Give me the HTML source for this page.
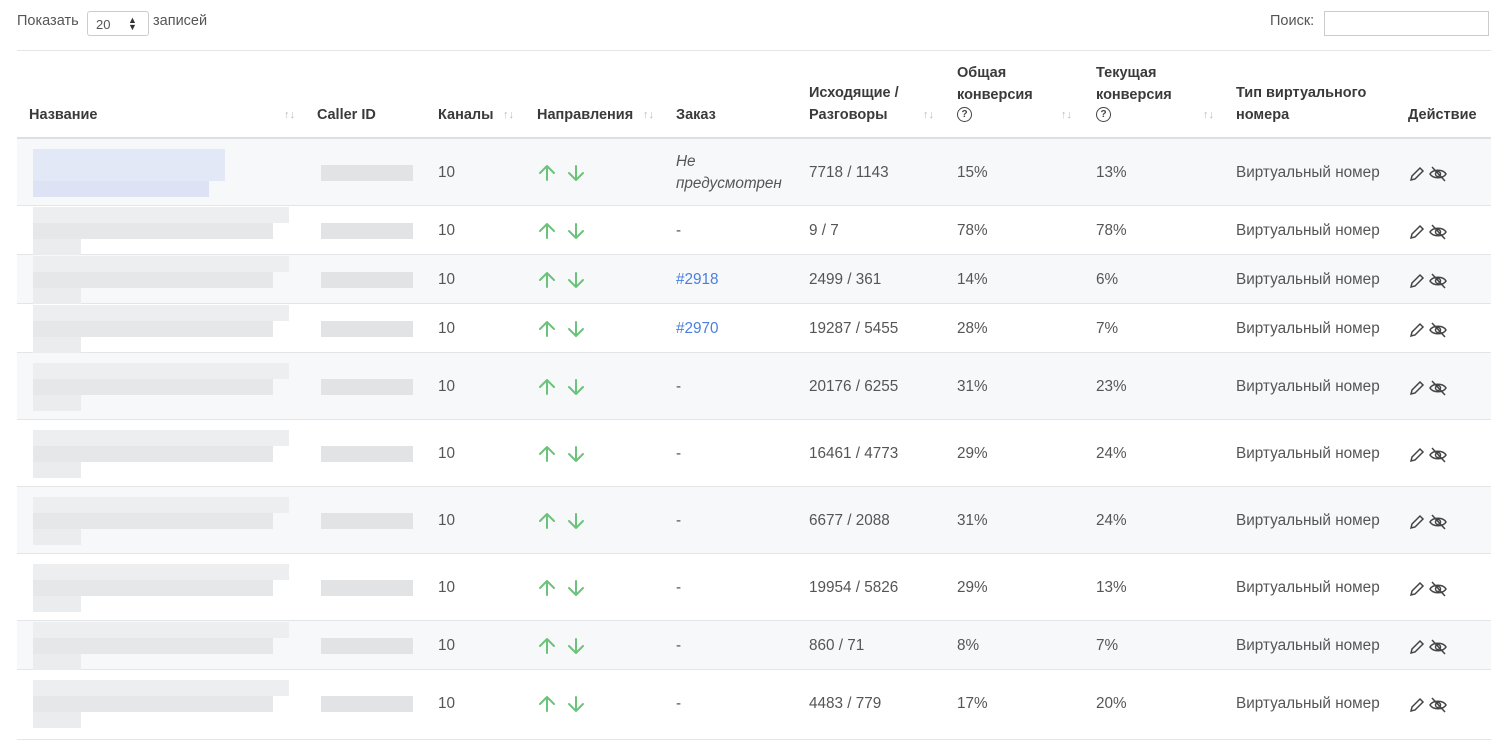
<!DOCTYPE html>
<html><head><meta charset="utf-8"><style>
body{margin:0;width:1509px;height:728px;overflow:hidden;background:#fff;font-family:"Liberation Sans",sans-serif;color:#555;font-size:15.3px;position:relative}
.a{position:absolute;white-space:nowrap}
.h{font-weight:bold;color:#3a3a3a;font-size:14.5px;line-height:22px}
.s{color:#bbb;font-size:11px}
.row{position:absolute;left:17px;width:1474px;border-bottom:1px solid #e3e5e8}
.c{position:absolute;transform:translateY(-50%);white-space:nowrap}
.b{position:absolute;height:16px}
</style></head><body>
<div class="a" style="left:17px;top:13px;font-size:14.5px">Показать</div>
<div class="a" style="left:87px;top:11px;width:62px;height:25px;border:1px solid #ccc;border-radius:3px;box-sizing:border-box;font-size:13px;padding:5px 0 0 8px">20<span style="position:absolute;left:40px;top:3px;font-size:9px;color:#333">&#9650;</span><span style="position:absolute;left:40px;top:10px;font-size:9px;color:#333">&#9660;</span></div>
<div class="a" style="left:153px;top:13px;font-size:14.5px">записей</div>
<div class="a" style="left:1270px;top:13px;font-size:14.5px">Поиск:</div>
<div class="a" style="left:1324px;top:11px;width:165px;height:25px;border:1px solid #ccc;box-sizing:border-box"></div>
<div class="a" style="left:17px;top:50px;width:1474px;height:1px;background:#e3e5e8"></div>
<div class="a" style="left:17px;top:137px;width:1474px;height:2px;background:#dcdfe3"></div>
<div class="a h" style="left:29px;top:104px">Название</div><div class="a s" style="left:284px;top:109px">↑↓</div>
<div class="a h" style="left:317px;top:104px">Caller ID</div>
<div class="a h" style="left:438px;top:104px">Каналы</div><div class="a s" style="left:503px;top:109px">↑↓</div>
<div class="a h" style="left:537px;top:104px">Направления</div><div class="a s" style="left:643px;top:109px">↑↓</div>
<div class="a h" style="left:676px;top:104px">Заказ</div>
<div class="a h" style="left:809px;top:82px">Исходящие /<br>Разговоры</div><div class="a s" style="left:923px;top:109px">↑↓</div>
<div class="a h" style="left:957px;top:62px">Общая<br>конверсия</div><div class="a" style="left:957px;top:107px;width:13px;height:13px;border:1.5px solid #444;border-radius:50%;font-size:10px;text-align:center;line-height:13px;color:#444;font-weight:bold">?</div><div class="a s" style="left:1061px;top:109px">↑↓</div>
<div class="a h" style="left:1096px;top:62px">Текущая<br>конверсия</div><div class="a" style="left:1096px;top:107px;width:13px;height:13px;border:1.5px solid #444;border-radius:50%;font-size:10px;text-align:center;line-height:13px;color:#444;font-weight:bold">?</div><div class="a s" style="left:1203px;top:109px">↑↓</div>
<div class="a h" style="left:1236px;top:82px">Тип виртуального<br>номера</div>
<div class="a h" style="left:1408px;top:104px">Действие</div>
<div id="rows"></div>
<script>
var R=[[139,206,1,'<i>Не<br>предусмотрен</i>','7718 / 1143','15%','13%'],
[206,255,0,'-','9 / 7','78%','78%'],
[255,304,1,'<span style="color:#4a7fe0">#2918</span>','2499 / 361','14%','6%'],
[304,353,0,'<span style="color:#4a7fe0">#2970</span>','19287 / 5455','28%','7%'],
[353,420,1,'-','20176 / 6255','31%','23%'],
[420,487,0,'-','16461 / 4773','29%','24%'],
[487,554,1,'-','6677 / 2088','31%','24%'],
[554,621,0,'-','19954 / 5826','29%','13%'],
[621,670,1,'-','860 / 71','8%','7%'],
[670,740,0,'-','4483 / 779','17%','20%']];
var h='';
var pen='<svg width="18" height="18" viewBox="0 0 18 18" style="position:absolute;left:1408px"><path d="M3 15l1-4 8-8 3 3-8 8z" fill="none" stroke="#444" stroke-width="1.5"/></svg><svg width="20" height="18" viewBox="0 0 20 18" style="position:absolute;left:1428px"><path d="M2 9c3-5 13-5 16 0c-3 5-13 5-16 0z" fill="none" stroke="#444" stroke-width="1.5"/><circle cx="10" cy="9" r="2.5" fill="none" stroke="#444" stroke-width="1.5"/><path d="M4 2l13 14" stroke="#444" stroke-width="1.5"/></svg>';
var arr='<svg width="50" height="20" viewBox="0 0 50 20"><g fill="none" stroke="#6cc27a" stroke-width="2" stroke-linecap="round" stroke-linejoin="round"><path d="M10 17V3M3 10l7-7 7 7"/><path d="M39 3v14M32 10l7 7 7-7"/></g></svg>';
R.forEach(function(r,i){
 var t=r[0],b=r[1],cy=(t+b)/2;if(i==9)cy=704;
 h+='<div class="row" style="top:'+t+'px;height:'+(b-t-1)+'px;background:'+(r[2]?'#f7f8fa':'#fff')+'"></div>';
 var col=i==0?'#dfe5f5':'#e6e7e9';
 if(i==0){h+='<div class="b" style="left:33px;top:149px;width:192px;height:32px;background:#e3e8f6"></div><div class="b" style="left:33px;top:181px;width:176px;background:#dde3f4"></div>';}
 else{h+='<div class="b" style="left:33px;top:'+(cy-24)+'px;width:256px;background:#eceef0"></div><div class="b" style="left:33px;top:'+(cy-8)+'px;width:240px;background:'+col+'"></div><div class="b" style="left:33px;top:'+(cy+8)+'px;width:48px;background:#ebecee"></div>';}
 h+='<div class="b" style="left:321px;top:'+(cy-8)+'px;width:92px;background:#e2e3e5"></div>';
 h+='<div class="c" style="left:438px;top:'+cy+'px">10</div>';
 h+='<div class="c" style="left:537px;top:'+cy+'px;height:20px">'+arr+'</div>';
 h+='<div class="c" style="left:676px;top:'+cy+'px;line-height:22px">'+r[3]+'</div>';
 h+='<div class="c" style="left:809px;top:'+cy+'px">'+r[4]+'</div>';
 h+='<div class="c" style="left:957px;top:'+cy+'px">'+r[5]+'</div>';
 h+='<div class="c" style="left:1096px;top:'+cy+'px">'+r[6]+'</div>';
 h+='<div class="c" style="left:1236px;top:'+cy+'px">Виртуальный номер</div>';
 h+='<div class="c" style="left:0;top:'+(cy+1)+'px;height:18px">'+pen+'</div>';
});
document.getElementById('rows').innerHTML=h;
</script>
</body></html>
